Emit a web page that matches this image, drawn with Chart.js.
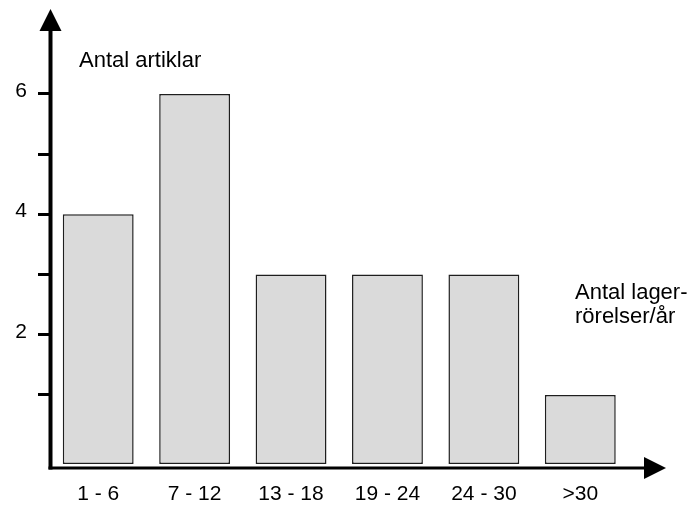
<!DOCTYPE html>
<html>
<head>
<meta charset="utf-8">
<script src="https://cdn.jsdelivr.net/npm/chart.js@4/dist/chart.umd.min.js"></script>
<style>
  html, body { margin: 0; padding: 0; background: #fff; }
  #wrap { width: 691px; height: 507px; }
</style>
</head>
<body>
<div id="wrap"><canvas id="chartLager"></canvas></div>
<script>
const kategorier = ['1 - 6', '7 - 12', '13 - 18', '19 - 24', '24 - 30', '>30'];
const antalArtiklar = [4, 6, 3, 3, 3, 1];
const yTicks = [1, 2, 3, 4, 5, 6];
const yLabels = [2, 4, 6];
const Y_MIN = -0.146;
const Y_MAX = 7.31;

const FONT = '"Liberation Sans", Arial, sans-serif';

// axlar med pilar + axeltexter
const axisArrows = {
  id: 'axisArrows',
  afterDraw(chart) {
    const { ctx, chartArea: a } = chart;
    const ax = a.left + 0.5;
    const ay = a.bottom + 4;
    ctx.save();
    ctx.strokeStyle = '#000';
    ctx.fillStyle = '#000';
    ctx.lineWidth = 4;
    ctx.beginPath();
    ctx.moveTo(ax, ay + 1.5);
    ctx.lineTo(ax, 30);
    ctx.stroke();
    ctx.lineWidth = 3;
    ctx.beginPath();
    ctx.moveTo(ax - 2, ay);
    ctx.lineTo(646, ay);
    ctx.stroke();
    ctx.beginPath();
    ctx.moveTo(ax, 9);
    ctx.lineTo(ax + 11, 31);
    ctx.lineTo(ax - 11, 31);
    ctx.closePath();
    ctx.fill();
    ctx.beginPath();
    ctx.moveTo(666, ay);
    ctx.lineTo(644, ay - 11);
    ctx.lineTo(644, ay + 11);
    ctx.closePath();
    ctx.fill();

    ctx.font = '22px ' + FONT;
    ctx.textBaseline = 'alphabetic';
    ctx.textAlign = 'left';
    ctx.fillText('Antal artiklar', 79, 67);
    ctx.fillText('Antal lager-', 575, 299);
    ctx.fillText('rörelser/år', 575, 323);
    ctx.restore();
  }
};

new Chart(document.getElementById('chartLager').getContext('2d'), {
  type: 'bar',
  data: {
    labels: kategorier,
    datasets: [{
      label: 'Antal artiklar',
      data: antalArtiklar,
      base: Y_MIN,
      backgroundColor: '#dadada',
      borderColor: '#1e1e1e',
      borderWidth: 1.5,
      borderSkipped: false,
      barPercentage: 0.735,
      categoryPercentage: 1
    }]
  },
  options: {
    responsive: true,
    maintainAspectRatio: false,
    animation: false,
    layout: { padding: { top: 15, right: 62.5, bottom: 0, left: 0 } },
    plugins: { legend: { display: false }, tooltip: { enabled: false } },
    scales: {
      x: {
        border: { display: false },
        grid: { display: false, drawTicks: false },
        ticks: { color: '#000', font: { family: FONT, size: 21 }, padding: 18, maxRotation: 0 },
        afterFit: s => { s.height = 43; s.paddingLeft = 0; s.paddingRight = 0; }
      },
      y: {
        min: Y_MIN,
        max: Y_MAX,
        border: { display: false },
        grid: { drawOnChartArea: false, drawTicks: true, tickLength: 12, tickColor: '#000', tickWidth: 3 },
        afterBuildTicks: s => { s.ticks = yTicks.map(v => ({ value: v })); },
        ticks: {
          color: '#000',
          font: { family: FONT, size: 21 },
          padding: 11,
          labelOffset: -3,
          callback: v => yLabels.includes(v) ? String(v) : ''
        },
        afterFit: s => { s.width = 50; s.paddingTop = 0; s.paddingBottom = 0; }
      }
    }
  },
  plugins: [axisArrows]
});
</script>
</body>
</html>
